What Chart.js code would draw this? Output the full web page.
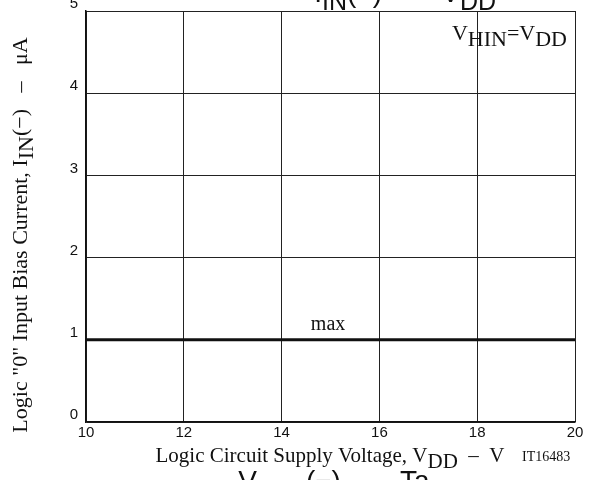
<!DOCTYPE html>
<html>
<head>
<meta charset="utf-8">
<script src="https://cdn.jsdelivr.net/npm/chart.js@4.4.0/dist/chart.umd.min.js"></script>
<style>
  html, body { margin: 0; padding: 0; background: #fff; overflow: hidden; }
  #wrap { width: 597px; height: 480px; }
</style>
</head>
<body>
<div id="wrap"><canvas id="chart" width="597" height="480"></canvas></div>
<script>
'use strict';

// data
var supplyVoltage = [10, 20];        // V_DD, V
var biasCurrentMax = [1, 1];         // I_IN(-) max, uA
var xRange = [10, 20];
var yRange = [0, 5];

var SERIF = '"Liberation Serif", "DejaVu Serif", serif';
var SANS = '"Liberation Sans", Arial, sans-serif';

// draws text made of pieces, some of them subscripts
function drawRich(ctx, parts, x, y, size, family, align, subScale) {
    var subSize = Math.round(size * (subScale || 0.92));
    var total = 0;
    parts.forEach(function(p) {
        ctx.font = (p.sub ? subSize : size) + 'px ' + family;
        p.w = ctx.measureText(p.t).width;
        total += p.w;
    });
    var cx = x;
    if (align === 'center') cx = x - total / 2;
    if (align === 'right') cx = x - total;
    ctx.textAlign = 'left';
    ctx.textBaseline = 'alphabetic';
    parts.forEach(function(p) {
        ctx.font = (p.sub ? subSize : size) + 'px ' + family;
        ctx.fillText(p.t, cx, y + (p.sub ? size * 0.28 : 0));
        cx += p.w;
    });
}

var labelsPlugin = {
    id: 'labels',
    afterDraw: function(chart) {
        var ctx = chart.ctx;
        var xs = chart.scales.x, ys = chart.scales.y;
        ctx.save();
        ctx.fillStyle = '#111';

        // curve label
        ctx.font = '20px ' + SERIF;
        ctx.textAlign = 'center';
        ctx.fillText('max', xs.getPixelForValue(14.95), ys.getPixelForValue(1.12));

        // condition
        drawRich(ctx, [{t: 'V'}, {t: 'HIN', sub: true}, {t: '=V'}, {t: 'DD', sub: true}],
            xs.right - 8, ys.getPixelForValue(4.65), 22, SERIF, 'right', 1.0);

        // x axis title
        drawRich(ctx, [{t: 'Logic Circuit Supply Voltage, V'}, {t: 'DD', sub: true}, {t: '  \u2013  V'}],
            330, 462, 21, SERIF, 'center', 1.0);
        ctx.font = '14px ' + SERIF;
        ctx.textAlign = 'left';
        ctx.fillText('IT16483', 522, 461);

        // y axis title
        ctx.save();
        ctx.translate(27, 235);
        ctx.rotate(-Math.PI / 2);
        drawRich(ctx, [{t: 'Logic "0" Input Bias Current, I'}, {t: 'IN', sub: true}, {t: '(\u2212)   \u2013   \u03bcA'}],
            0, 0, 22, SERIF, 'center', 1.0);
        ctx.restore();

        // neighbouring figure titles cut by the page
        drawRich(ctx, [{t: 'I'}, {t: 'IN', sub: true}, {t: '(\u2212)  \u2014  V'}, {t: 'DD', sub: true}],
            496, 2, 28, SANS, 'right', 0.9);
        drawRich(ctx, [{t: 'V'}, {t: 'HLIV', sub: true}, {t: '(\u2212)  \u2014  Ta'}],
            334, 490, 28, SANS, 'center', 0.8);
        ctx.restore();
    }
};

var ctx = document.getElementById('chart');

var myChart = new Chart(ctx, {
    type: 'line',
    data: {
        datasets: [
            {
                label: 'max',
                data: supplyVoltage.map(function(v, i) { return {x: v, y: biasCurrentMax[i]}; }),
                borderColor: '#111',
                borderWidth: 3,
                pointRadius: 0,
                fill: false
            }
        ]
    },
    options: {
        responsive: false,
        animation: false,
        layout: {
            padding: {left: 0, right: 22, top: 11, bottom: 0}
        },
        plugins: {
            legend: {display: false},
            tooltip: {enabled: false}
        },
        scales: {
            x: {
                type: 'linear',
                min: xRange[0],
                max: xRange[1],
                ticks: {
                    stepSize: 2,
                    color: '#111',
                    padding: 2,
                    font: {family: SANS, size: 15}
                },
                grid: {color: '#222', lineWidth: 1, drawTicks: false},
                border: {color: '#111', width: 1.5},
                afterFit: function(scale) { scale.height = 58; }
            },
            y: {
                type: 'linear',
                min: yRange[0],
                max: yRange[1],
                ticks: {
                    stepSize: 1,
                    color: '#111',
                    padding: 8,
                    labelOffset: -7,
                    font: {family: SANS, size: 15}
                },
                grid: {color: '#222', lineWidth: 1, drawTicks: false},
                border: {color: '#111', width: 1.5},
                afterFit: function(scale) {
                    scale.width = 86;
                    scale.paddingTop = 0;
                    scale.paddingBottom = 0;
                }
            }
        }
    },
    plugins: [labelsPlugin]
});
</script>
</body>
</html>
